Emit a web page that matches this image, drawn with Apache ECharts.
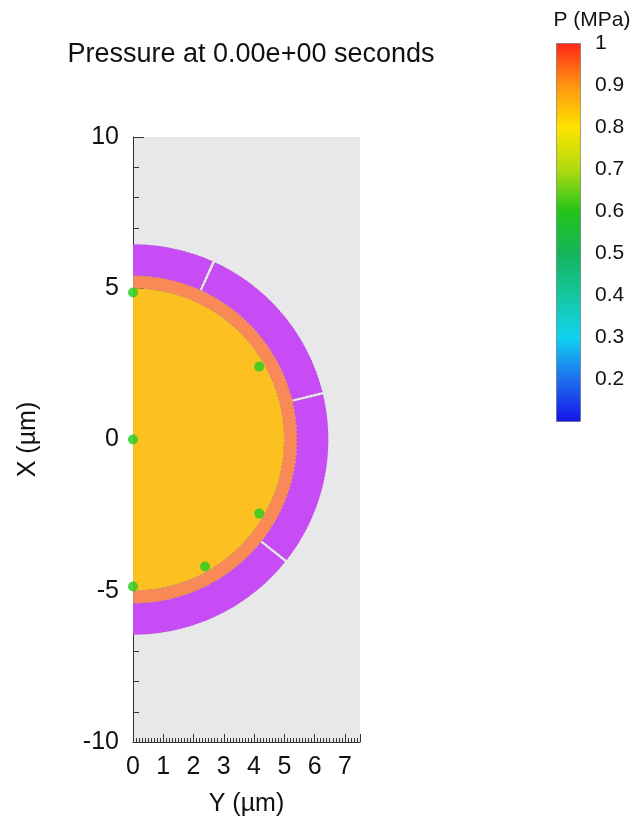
<!DOCTYPE html>
<html>
<head>
<meta charset="utf-8">
<script src="https://cdn.jsdelivr.net/npm/echarts@6/dist/echarts.min.js"></script>
<style>
  html, body { margin: 0; padding: 0; background: #fff; }
  #main { width: 643px; height: 837px; }
</style>
</head>
<body>
<div id="main"></div>
<script>
// 압력 분포 (t = 0) - 단면 링 구조
var chart = echarts.init(document.getElementById('main'));

// 링 구간: [안쪽 반지름, 바깥 반지름, 시작각(도), 끝각(도), 재질]
var rings = [
  [0, 5.0, -90, 90, 'core'],
  [5.0, 5.42, -90, 90, 'shell'],
  [5.42, 6.45, 66.0, 90, 'coat'],
  [5.42, 6.45, 14.1, 65.2, 'coat'],
  [5.42, 6.45, -38.1, 13.3, 'coat'],
  [5.42, 6.45, -90, -38.9, 'coat']
];
var materialColors = { core: '#fcc021', shell: '#f98a58', coat: '#c84cf5' };

// 측정점 [Y, X]
var probes = [
  [0, 4.86], [4.17, 2.41], [0, 0], [4.17, -2.45], [2.38, -4.2], [0, -4.86]
];

// 컬러바 색 (P 0.1 → 1.0)
var barColors = ['#1414e6', '#1e6ef0', '#10d2f0', '#14c8a0', '#14b45a',
                 '#22c41a', '#b0da10', '#ffe400', '#ff9410', '#ff2818'];
var barMin = 0.1, barMax = 1.0;

var font = 'Liberation Sans, Arial, sans-serif';

function renderRing(params, api) {
  var r0 = api.value(0), r1 = api.value(1);
  var a0 = api.value(2), a1 = api.value(3);
  var pts = [];
  var steps = Math.max(8, Math.ceil(Math.abs(a1 - a0)));
  for (var i = 0; i <= steps; i++) {
    var a = (a0 + (a1 - a0) * i / steps) * Math.PI / 180;
    pts.push(api.coord([r1 * Math.cos(a), r1 * Math.sin(a)]));
  }
  for (var j = steps; j >= 0; j--) {
    var b = (a0 + (a1 - a0) * j / steps) * Math.PI / 180;
    pts.push(api.coord([r0 * Math.cos(b), r0 * Math.sin(b)]));
  }
  var key = rings[params.dataIndex][4];
  return {
    type: 'polygon',
    shape: { points: pts },
    style: { fill: materialColors[key], stroke: 'rgba(70,60,60,0.35)', lineWidth: 0.6, lineDash: [2, 2] }
  };
}

var option = {
  backgroundColor: '#fff',
  animation: false,
  title: {
    text: 'Pressure at 0.00e+00 seconds',
    left: 246, top: 36, textAlign: 'center',
    textStyle: { fontFamily: font, fontSize: 27, fontWeight: 'normal', color: '#111' }
  },
  grid: [
    { left: 133, top: 137, width: 227, height: 605, show: true, backgroundColor: '#e8e8eb', borderWidth: 0 },
    { left: 556, top: 43, width: 24, height: 378, show: false }
  ],
  xAxis: [
    {
      gridIndex: 0, type: 'value', min: 0, max: 7.5, interval: 1,
      name: 'Y (µm)', nameLocation: 'middle', nameGap: 50,
      nameTextStyle: { fontFamily: font, fontSize: 25, color: '#111' },
      axisLine: { onZero: false, lineStyle: { color: '#333' } },
      axisTick: { inside: true, length: 8, lineStyle: { color: '#333' } },
      minorTick: { show: true, splitNumber: 10, length: 4, lineStyle: { color: '#333' } },
      axisLabel: { fontFamily: font, fontSize: 25, color: '#111', margin: 13, showMaxLabel: false },
      splitLine: { show: false }
    },
    { gridIndex: 1, type: 'category', data: [''], show: false }
  ],
  yAxis: [
    {
      gridIndex: 0, type: 'value', min: -10, max: 10, interval: 5,
      name: 'X (µm)', nameLocation: 'middle', nameGap: 92, nameRotate: 90,
      nameTextStyle: { fontFamily: font, fontSize: 25, color: '#111' },
      axisLine: { show: true, onZero: false, lineStyle: { color: '#333' } },
      axisTick: { inside: true, length: 11, lineStyle: { color: '#333' } },
      minorTick: { show: true, splitNumber: 5, length: 6, lineStyle: { color: '#333' } },
      axisLabel: { fontFamily: font, fontSize: 25, color: '#111', margin: 14 },
      splitLine: { show: false }
    },
    {
      gridIndex: 1, type: 'value', position: 'left', min: barMin, max: barMax, interval: 0.1,
      axisLine: { show: false },
      axisTick: { inside: true, length: 4, lineStyle: { color: '#444' } },
      minorTick: { show: true, splitNumber: 2, length: 2, lineStyle: { color: '#444' } },
      axisLabel: { show: false },
      splitLine: { show: false }
    },
    {
      gridIndex: 1, type: 'value', position: 'right', min: barMin, max: barMax, interval: 0.1,
      name: 'P (MPa)', nameLocation: 'end', nameGap: 12,
      nameTextStyle: { fontFamily: font, fontSize: 21, color: '#111', align: 'center', padding: [0, 0, 0, 24] },
      axisLine: { show: false },
      axisTick: { inside: true, length: 4, lineStyle: { color: '#444' } },
      minorTick: { show: true, splitNumber: 2, length: 2, lineStyle: { color: '#444' } },
      axisLabel: {
        fontFamily: font, fontSize: 21, color: '#111', margin: 15,
        formatter: function (v) {
          if (v < 0.15) return '';
          if (Math.abs(v - 1) < 1e-6) return '1';
          return v.toFixed(1);
        }
      },
      splitLine: { show: false }
    }
  ],
  visualMap: {
    type: 'continuous',
    min: barMin, max: barMax,
    left: 556, top: 43,
    itemWidth: 24, itemHeight: 378,
    padding: 0,
    calculable: false,
    text: null,
    seriesIndex: 2,
    inRange: { color: barColors },
    borderColor: '#777', borderWidth: 1
  },
  series: [
    {
      type: 'custom',
      xAxisIndex: 0, yAxisIndex: 0,
      renderItem: renderRing,
      encode: { x: -1, y: -1 },
      clip: true,
      data: rings.map(function (r) { return [r[0], r[1], r[2], r[3]]; }),
      z: 2
    },
    {
      type: 'scatter',
      xAxisIndex: 0, yAxisIndex: 0,
      data: probes,
      symbolSize: 10,
      itemStyle: { color: '#1fcc1f' },
      clip: true,
      z: 3
    },
    {
      type: 'scatter',
      xAxisIndex: 1, yAxisIndex: 2,
      data: [],
      symbolSize: 0
    }
  ]
};

chart.setOption(option);
</script>
</body>
</html>
